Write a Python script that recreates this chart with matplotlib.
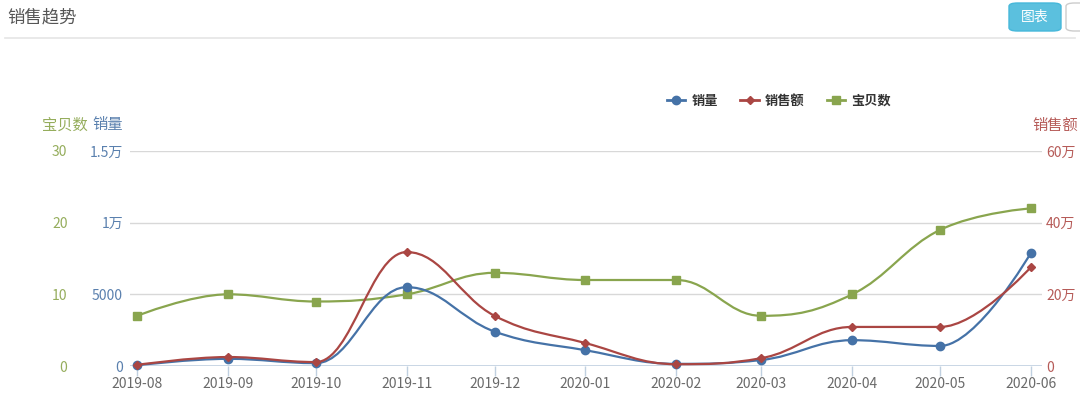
import pandas as pd
import matplotlib
matplotlib.use("Agg")
import matplotlib.pyplot as plt
import matplotlib.dates as mdates
from matplotlib.path import Path
from matplotlib.patches import PathPatch, FancyBboxPatch
from matplotlib.lines import Line2D

plt.rcParams['font.family'] = ['Noto Sans CJK SC', 'DejaVu Sans']

# data
months = ["2019-08", "2019-09", "2019-10", "2019-11", "2019-12", "2020-01",
          "2020-02", "2020-03", "2020-04", "2020-05", "2020-06"]
sales_qty = [50, 500, 200, 5500, 2400, 1100, 150, 420, 1800, 1400, 7900]          # 销量
sales_amt = [3000, 25000, 11000, 318000, 140000, 64000, 5000, 22000, 109000, 109000, 276000]  # 销售额
item_cnt = [7, 10, 9, 10, 13, 12, 12, 7, 10, 19, 22]                              # 宝贝数

qty_ticks = [0, 5000, 10000, 15000]
qty_labels = ["0", "5000", "1万", "1.5万"]
amt_ticks = [0, 200000, 400000, 600000]
amt_labels = ["0", "20万", "40万", "60万"]
cnt_ticks = [0, 10, 20, 30]

BLUE = "#4572A7"
RED = "#AA4643"
GREEN = "#89A54E"


def spline_path(x, y):
    # highcharts-style spline through the points
    smoothing = 1.5
    denom = smoothing + 1
    n = len(x)
    right = [None] * n
    verts = [(x[0], y[0])]
    codes = [Path.MOVETO]
    for i in range(1, n):
        px, py = x[i], y[i]
        if i < n - 1:
            lastX, lastY = x[i - 1], y[i - 1]
            nextX, nextY = x[i + 1], y[i + 1]
            lcx = (smoothing * px + lastX) / denom
            lcy = (smoothing * py + lastY) / denom
            rcx = (smoothing * px + nextX) / denom
            rcy = (smoothing * py + nextY) / denom
            corr = 0
            if rcx != lcx:
                corr = (rcy - lcy) * (rcx - px) / (rcx - lcx) + py - rcy
            lcy += corr
            rcy += corr
            if lcy > lastY and lcy > py:
                lcy = max(lastY, py)
                rcy = 2 * py - lcy
            elif lcy < lastY and lcy < py:
                lcy = min(lastY, py)
                rcy = 2 * py - lcy
            if rcy > nextY and rcy > py:
                rcy = max(nextY, py)
                lcy = 2 * py - rcy
            elif rcy < nextY and rcy < py:
                rcy = min(nextY, py)
                lcy = 2 * py - rcy
            right[i] = (rcx, rcy)
            left = (lcx, lcy)
        else:
            left = (px, py)
        c1 = right[i - 1] if right[i - 1] is not None else (x[i - 1], y[i - 1])
        verts += [c1, left, (px, py)]
        codes += [Path.CURVE4] * 3
    return Path(verts, codes)


dates = pd.to_datetime(months)
xnum = mdates.date2num(dates)

fig = plt.figure(figsize=(10.8, 4.04), dpi=100)
L, R, B, T = 130 / 1080, 1042 / 1080, 38 / 404, 253 / 404
ax = fig.add_axes([L, B, R - L, T - B])
axb = ax.twinx()
axr = ax.twinx()

x0 = xnum[0] - 2.4
x1 = xnum[-1] + 3.75
for a in (ax, axb, axr):
    a.set_xlim(x0, x1)
    for s in a.spines.values():
        s.set_visible(False)
    a.patch.set_visible(False)

ax.set_ylim(0, 30)
axb.set_ylim(0, 15000)
axr.set_ylim(0, 600000)

# grid lines
for v in cnt_ticks[1:]:
    ax.axhline(v, color="#D8D8D8", lw=1, zorder=0)
ax.axhline(0, color="#C0D0E0", lw=1.2, zorder=0)

# x axis
ax.set_xticks(xnum)
ax.set_xticklabels(months)
ax.tick_params(axis="x", colors="#C0D0E0", length=7, width=1, labelcolor="#6A6A6A",
               labelsize=10, pad=1)

# left green axis (宝贝数)
ax.set_yticks(cnt_ticks)
ax.set_yticklabels([str(v) for v in cnt_ticks])
ax.tick_params(axis="y", length=0, pad=45, labelcolor="#95AD5C", labelsize=10)

# left blue axis (销量)
axb.yaxis.tick_left()
axb.set_yticks(qty_ticks)
axb.set_yticklabels(qty_labels)
axb.tick_params(axis="y", length=0, pad=5, labelcolor="#5A80AE", labelsize=10)

# right red axis (销售额)
axr.set_yticks(amt_ticks)
axr.set_yticklabels(amt_labels)
axr.tick_params(axis="y", length=0, pad=3, labelcolor="#B65B58", labelsize=10)

# series
series = [
    (axb, sales_qty, BLUE, "o", 6),
    (axr, sales_amt, RED, "D", 4.5),
    (ax, item_cnt, GREEN, "s", 6),
]
for a, vals, col, mk, ms in series:
    a.add_patch(PathPatch(spline_path(list(xnum), vals), facecolor="none",
                          edgecolor=col, lw=1.6, zorder=3, clip_on=False))
    a.plot(xnum, vals, linestyle="none", marker=mk, color=col, ms=ms, zorder=4,
           clip_on=False)

# axis titles
fig.text(42 / 1080, 1 - 125 / 404, "宝贝数", color="#95AD5C", fontsize=11, va="center")
fig.text(92 / 1080, 1 - 125 / 404, "销量", color="#5A80AE", fontsize=11, va="center")
fig.text(1032 / 1080, 1 - 125 / 404, "销售额", color="#B65B58", fontsize=11, va="center")

# legend
handles = [Line2D([], [], color=c, marker=m, ms=s, lw=2) for _, _, c, m, s in series]
fig.legend(handles, ["销量", "销售额", "宝贝数"], loc="center",
           bbox_to_anchor=(779 / 1080, 1 - 101 / 404), ncol=3, frameon=False,
           handlelength=1.4, handletextpad=0.45, columnspacing=1.7,
           prop={"weight": "bold", "size": 9.5}, labelcolor="#333333")

# header
fig.text(7 / 1080, 1 - 17 / 404, "销售趋势", color="#555555", fontsize=12.5, va="center")
fig.add_artist(Line2D([5 / 1080, 1075 / 1080], [1 - 38 / 404, 1 - 38 / 404],
                      color="#E5E5E5", lw=1.2))
fig.add_artist(FancyBboxPatch((1009 / 1080, 1 - 31 / 404), 52 / 1080, 28 / 404,
                              boxstyle="round,pad=0,rounding_size=0.008",
                              facecolor="#5BC0DE", edgecolor="#46B8DA", lw=1,
                              transform=fig.transFigure))
fig.text(1035 / 1080, 1 - 17 / 404, "图表", color="white", fontsize=10,
         ha="center", va="center")
fig.add_artist(FancyBboxPatch((1066 / 1080, 1 - 31 / 404), 30 / 1080, 28 / 404,
                              boxstyle="round,pad=0,rounding_size=0.008",
                              facecolor="white", edgecolor="#CCCCCC", lw=1,
                              transform=fig.transFigure))

fig.savefig("out.png", dpi=100)
